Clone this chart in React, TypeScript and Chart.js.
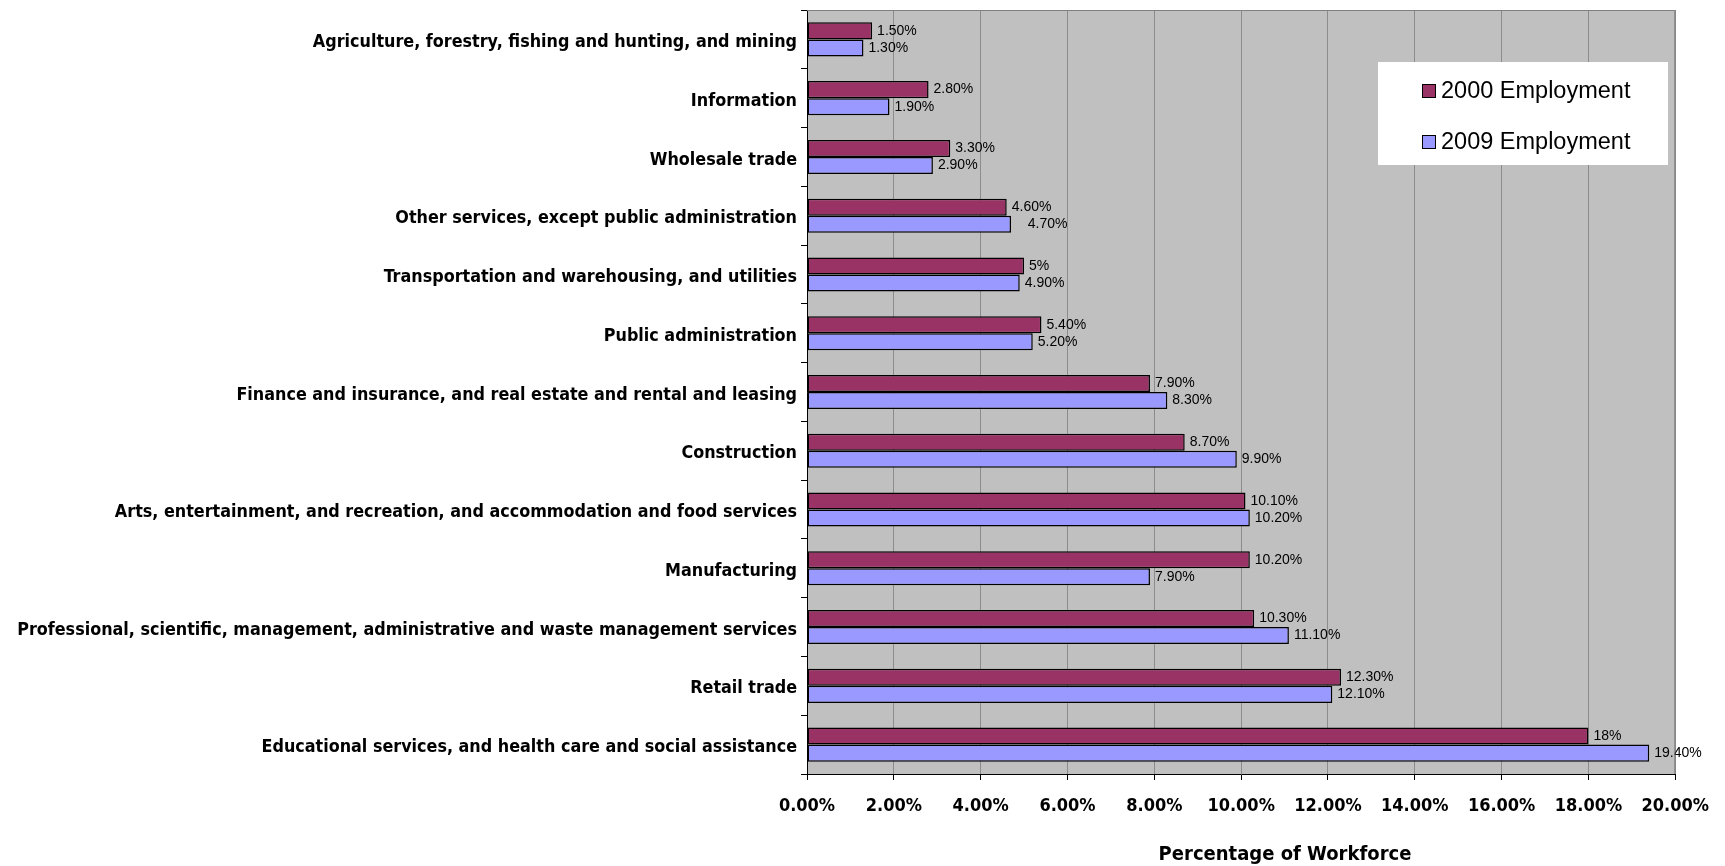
import React, { useEffect, useRef } from "react";
import { Chart, registerables } from "chart.js";

Chart.register(...registerables);

const categories = [
  "Agriculture, forestry, fishing and hunting, and mining",
  "Information",
  "Wholesale trade",
  "Other services, except public administration",
  "Transportation and warehousing, and utilities",
  "Public administration",
  "Finance and insurance, and real estate and rental and leasing",
  "Construction",
  "Arts, entertainment, and recreation, and accommodation and food services",
  "Manufacturing",
  "Professional, scientific, management, administrative and waste management services",
  "Retail trade",
  "Educational services, and health care and social assistance",
];

const series2000 = [1.5, 2.8, 3.3, 4.6, 5, 5.4, 7.9, 8.7, 10.1, 10.2, 10.3, 12.3, 18];
const series2009 = [1.3, 1.9, 2.9, 4.7, 4.9, 5.2, 8.3, 9.9, 10.2, 7.9, 11.1, 12.1, 19.4];

const labels2000 = ["1.50%", "2.80%", "3.30%", "4.60%", "5%", "5.40%", "7.90%", "8.70%", "10.10%", "10.20%", "10.30%", "12.30%", "18%"];
const labels2009 = ["1.30%", "1.90%", "2.90%", "   4.70%", "4.90%", "5.20%", "8.30%", "9.90%", "10.20%", "7.90%", "11.10%", "12.10%", "19.40%"];

const seriesNames = ["2000 Employment", "2009 Employment"];
const xTickLabels = ["0.00%", "2.00%", "4.00%", "6.00%", "8.00%", "10.00%", "12.00%", "14.00%", "16.00%", "18.00%", "20.00%"];
const axisTitle = "Percentage of Workforce";

const NARROW = "'Liberation Sans Narrow', 'Arial Narrow', 'DejaVu Sans Condensed', sans-serif";
const SANS = "'Liberation Sans', Arial, sans-serif";

export default function App() {
  const ref = useRef<HTMLCanvasElement | null>(null);

  useEffect(() => {
    if (!ref.current) return;
    const allLabels = [labels2000, labels2009];

    const bgPlugin = {
      id: "bgPlugin",
      beforeDraw(chart: any) {
        const { ctx, chartArea: a } = chart;
        ctx.save();
        ctx.fillStyle = "#C0C0C0";
        ctx.fillRect(a.left, a.top, a.right - a.left, a.bottom - a.top);
        ctx.restore();
      },
      afterDraw(chart: any) {
        const { ctx, chartArea: a } = chart;
        ctx.save();
        ctx.strokeStyle = "#808080";
        ctx.lineWidth = 1;
        ctx.beginPath();
        ctx.moveTo(a.left, a.top + 0.5);
        ctx.lineTo(a.right - 0.5, a.top + 0.5);
        ctx.lineTo(a.right - 0.5, a.bottom);
        ctx.stroke();
        ctx.restore();

        // axis title (offset to the right as in the original)
        ctx.save();
        ctx.font = `bold 20px ${NARROW}`;
        ctx.fillStyle = "#000";
        ctx.textAlign = "center";
        ctx.textBaseline = "middle";
        ctx.fillText(axisTitle, 1285, 855);
        ctx.restore();

        // legend
        const lx = 1378, ly = 62, lw = 290, lh = 103;
        ctx.save();
        ctx.fillStyle = "#FFFFFF";
        ctx.fillRect(lx, ly, lw, lh);
        ctx.font = `23.5px ${SANS}`;
        ctx.textBaseline = "middle";
        ctx.textAlign = "left";
        const rows = [91, 142];
        chart.data.datasets.forEach((ds: any, i: number) => {
          const cy = rows[i];
          ctx.fillStyle = ds.backgroundColor;
          ctx.fillRect(1422, cy - 7, 14, 14);
          ctx.strokeStyle = "#000";
          ctx.lineWidth = 1;
          ctx.strokeRect(1422.5, cy - 6.5, 13, 13);
          ctx.fillStyle = "#000";
          ctx.fillText(ds.label, 1441, cy + 1);
        });
        ctx.restore();
      },
      afterDatasetsDraw(chart: any) {
        const { ctx } = chart;
        ctx.save();
        ctx.font = `14px ${SANS}`;
        ctx.fillStyle = "#000";
        ctx.textBaseline = "middle";
        ctx.textAlign = "left";
        chart.data.datasets.forEach((_ds: any, di: number) => {
          const meta = chart.getDatasetMeta(di);
          meta.data.forEach((el: any, i: number) => {
            ctx.fillText(allLabels[di][i], el.x + 5, el.y);
          });
        });
        ctx.restore();
      },
    };

    const chart = new Chart(ref.current, {
      type: "bar",
      data: {
        labels: categories,
        datasets: [
          {
            label: seriesNames[0],
            data: series2000,
            backgroundColor: "#993366",
            borderColor: "#000000",
            borderWidth: 1.5,
            borderSkipped: false,
            categoryPercentage: 0.58,
            barPercentage: 1,
          },
          {
            label: seriesNames[1],
            data: series2009,
            backgroundColor: "#9999FF",
            borderColor: "#000000",
            borderWidth: 1.5,
            borderSkipped: false,
            categoryPercentage: 0.58,
            barPercentage: 1,
          },
        ],
      },
      options: {
        indexAxis: "y",
        responsive: false,
        animation: false,
        devicePixelRatio: 1,
        layout: { padding: { top: 10, right: 48, left: 0, bottom: 0 } },
        plugins: {
          legend: { display: false },
          tooltip: { enabled: false },
        },
        scales: {
          x: {
            min: 0,
            max: 20,
            ticks: {
              stepSize: 2,
              maxRotation: 0,
              color: "#000",
              padding: 16,
              font: { family: NARROW, size: 18, weight: "bold" },
              callback: (v: any) => xTickLabels[Math.round(Number(v) / 2)],
            },
            grid: { color: "#8c8c8c", tickColor: "#000", tickLength: 6, lineWidth: 1 },
            border: { display: true, color: "#000", width: 1 },
            title: { display: false },
            afterFit: (s: any) => {
              s.height = 92;
            },
          },
          y: {
            ticks: {
              autoSkip: false,
              color: "#000",
              padding: 4,
              labelOffset: 3,
              font: { family: NARROW, size: 17.8, weight: "bold" },
            },
            grid: {
              display: true,
              drawOnChartArea: false,
              drawTicks: true,
              tickLength: 6,
              tickColor: "#000",
              offset: true,
            },
            border: { display: true, color: "#000", width: 1 },
            afterFit: (s: any) => {
              s.width = 807;
              s.paddingTop = 0;
              s.paddingBottom = 0;
            },
          },
        },
      },
      plugins: [bgPlugin],
    } as any);

    return () => chart.destroy();
  }, []);

  return (
    <div style={{ position: "fixed", left: 0, top: 0, width: 1725, height: 866, background: "#fff" }}>
      <canvas ref={ref} width={1725} height={866} style={{ display: "block" }} />
    </div>
  );
}
